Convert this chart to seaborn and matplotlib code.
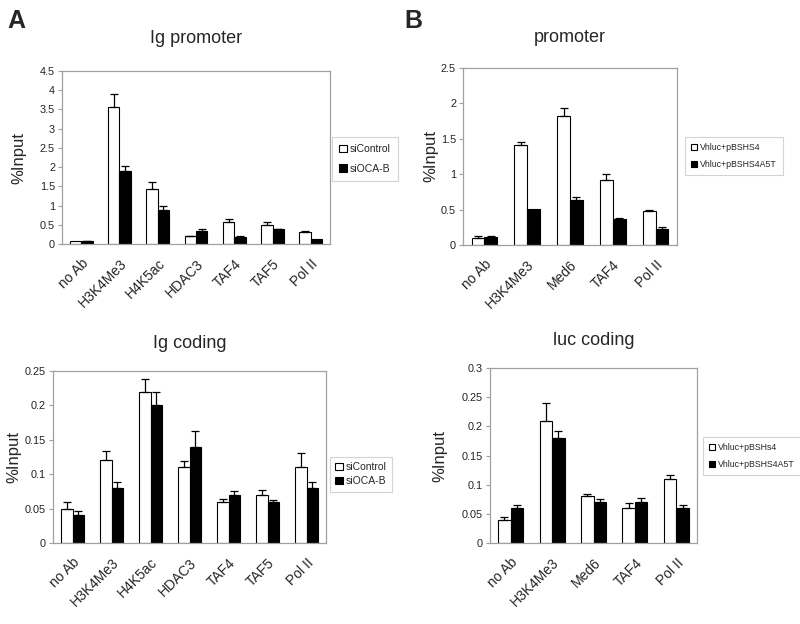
import numpy as np
import pandas as pd
import matplotlib
matplotlib.use('Agg')
import matplotlib.pyplot as plt
import seaborn as sns
from matplotlib.patches import Patch

# panel A: Ig promoter / Ig coding
a_targets = ['no Ab', 'H3K4Me3', 'H4K5ac', 'HDAC3', 'TAF4', 'TAF5', 'Pol II']
a_groups = ['siControl', 'siOCA-B']

ig_prom_ctrl = [0.07, 3.56, 1.43, 0.20, 0.57, 0.50, 0.31]
ig_prom_ctrl_err = [0.0, 0.34, 0.17, 0.02, 0.07, 0.07, 0.02]
ig_prom_oca = [0.08, 1.89, 0.88, 0.34, 0.18, 0.39, 0.12]
ig_prom_oca_err = [0.01, 0.13, 0.10, 0.04, 0.02, 0.01, 0.0]

ig_cod_ctrl = [0.05, 0.12, 0.22, 0.11, 0.06, 0.07, 0.11]
ig_cod_ctrl_err = [0.009, 0.014, 0.018, 0.009, 0.004, 0.007, 0.021]
ig_cod_oca = [0.04, 0.08, 0.20, 0.14, 0.07, 0.06, 0.08]
ig_cod_oca_err = [0.006, 0.008, 0.020, 0.023, 0.006, 0.003, 0.009]

# panel B: promoter / luc coding
b_targets = ['no Ab', 'H3K4Me3', 'Med6', 'TAF4', 'Pol II']
b_groups_top = ['Vhluc+pBSHS4', 'Vhluc+pBSHS4A5T']
b_groups_bot = ['Vhluc+pBSHs4', 'Vhluc+pBSHS4A5T']

prom_hs4 = [0.10, 1.41, 1.82, 0.92, 0.487]
prom_hs4_err = [0.03, 0.05, 0.12, 0.08, 0.01]
prom_a5t = [0.12, 0.515, 0.63, 0.37, 0.22]
prom_a5t_err = [0.01, 0.0, 0.055, 0.01, 0.035]

luc_hs4 = [0.04, 0.21, 0.08, 0.06, 0.11]
luc_hs4_err = [0.004, 0.030, 0.004, 0.008, 0.007]
luc_a5t = [0.06, 0.18, 0.07, 0.07, 0.06]
luc_a5t_err = [0.0046, 0.0126, 0.005, 0.008, 0.0046]

sns.set_style('white')
plt.rcParams['font.family'] = ['Liberation Sans', 'DejaVu Sans']

GRAY = '#a0a0a0'
W, H = 800, 624


def draw_panel(box, targets, groups, v1, e1, v2, e2, ymax, ystep, title,
               title_pad, ylab_x, leg_anchor, leg_size, leg_spacing=0.9,
               leg_pad=0.7):
    # box in pixels: left, top, right, bottom
    l, t, r, b = box
    ax = fig.add_axes([l / W, 1 - b / H, (r - l) / W, (b - t) / H])
    n = len(targets)
    df = pd.DataFrame({
        'target': targets * 2,
        'group': [groups[0]] * n + [groups[1]] * n,
        'value': v1 + v2,
    })
    sns.barplot(data=df, x='target', y='value', hue='group',
                palette=['white', 'black'], saturation=1, edgecolor='black',
                linewidth=0.8, width=0.6, errorbar=None, legend=False, ax=ax)

    # one-sided error bars on top of each bar
    for cont, errs in zip(ax.containers, [e1, e2]):
        for bar, e in zip(cont, errs):
            if e > 0:
                ax.errorbar(bar.get_x() + bar.get_width() / 2, bar.get_height(),
                            yerr=[[0], [e]], fmt='none', ecolor='black',
                            elinewidth=0.9, capsize=3, capthick=0.9, zorder=1)

    ax.set_xlim(-0.5, n - 0.5)
    ax.set_ylim(0, ymax)
    yt = np.arange(0, ymax + ystep / 2, ystep)
    ax.set_yticks(yt)
    ax.set_yticklabels([f'{v:g}' for v in yt], fontsize=7.8, color='#222222')
    ax.set_xticks(range(n))
    ax.set_xticklabels(targets, rotation=45, ha='right',
                       rotation_mode='anchor', fontsize=10)
    ax.set_xticks(np.arange(-0.5, n, 1), minor=True)
    ax.tick_params(axis='x', which='major', length=0, pad=9)
    ax.tick_params(axis='x', which='minor', length=4, color=GRAY, width=0.8)
    ax.tick_params(axis='y', length=3, color=GRAY, width=0.8, left=True, pad=2)
    for s in ax.spines.values():
        s.set_visible(True)
        s.set_color(GRAY)
        s.set_linewidth(0.9)
    ax.set_xlabel('')
    ax.set_ylabel('%Input', fontsize=12, va='center')
    ax.yaxis.set_label_coords((ylab_x - l) / (r - l), 0.5)
    ax.set_title(title, fontsize=13, pad=title_pad)

    handles = [Patch(facecolor='white', edgecolor='black', linewidth=0.8),
               Patch(facecolor='black', edgecolor='black', linewidth=0.8)]
    leg = ax.legend(handles, groups, loc='upper left',
                    bbox_to_anchor=(leg_anchor[0] / W, 1 - leg_anchor[1] / H),
                    bbox_transform=fig.transFigure,
                    fontsize=leg_size, frameon=True, fancybox=False,
                    handlelength=0.7, handleheight=0.7, handletextpad=0.3,
                    labelspacing=leg_spacing, borderpad=leg_pad,
                    borderaxespad=0)
    leg.get_frame().set_edgecolor('#c8c8c8')
    leg.get_frame().set_linewidth(0.8)
    return ax


fig = plt.figure(figsize=(8, 6.24), dpi=100)

draw_panel((62, 71, 330, 244), a_targets, a_groups, ig_prom_ctrl,
           ig_prom_ctrl_err, ig_prom_oca, ig_prom_oca_err, 4.5, 0.5,
           'Ig promoter', 20, 19, (332, 137), 7.5)

draw_panel((463, 68, 677, 245), b_targets, b_groups_top, prom_hs4,
           prom_hs4_err, prom_a5t, prom_a5t_err, 2.5, 0.5,
           'promoter', 19, 431, (685, 137), 6.3)

draw_panel((53, 371, 326, 543), a_targets, a_groups, ig_cod_ctrl,
           ig_cod_ctrl_err, ig_cod_oca, ig_cod_oca_err, 0.25, 0.05,
           'Ig coding', 16.5, 14, (330, 457), 7.5, leg_spacing=0.4,
           leg_pad=0.5)

draw_panel((490, 368, 697, 543), b_targets, b_groups_bot, luc_hs4,
           luc_hs4_err, luc_a5t, luc_a5t_err, 0.3, 0.05,
           'luc coding', 16.5, 440, (703, 437), 6.3)

fig.text(0.009, 0.985, 'A', fontsize=18, fontweight='bold', va='top', ha='left')
fig.text(0.506, 0.985, 'B', fontsize=18, fontweight='bold', va='top', ha='left')

fig.savefig('out.png', dpi=100, facecolor='white')
